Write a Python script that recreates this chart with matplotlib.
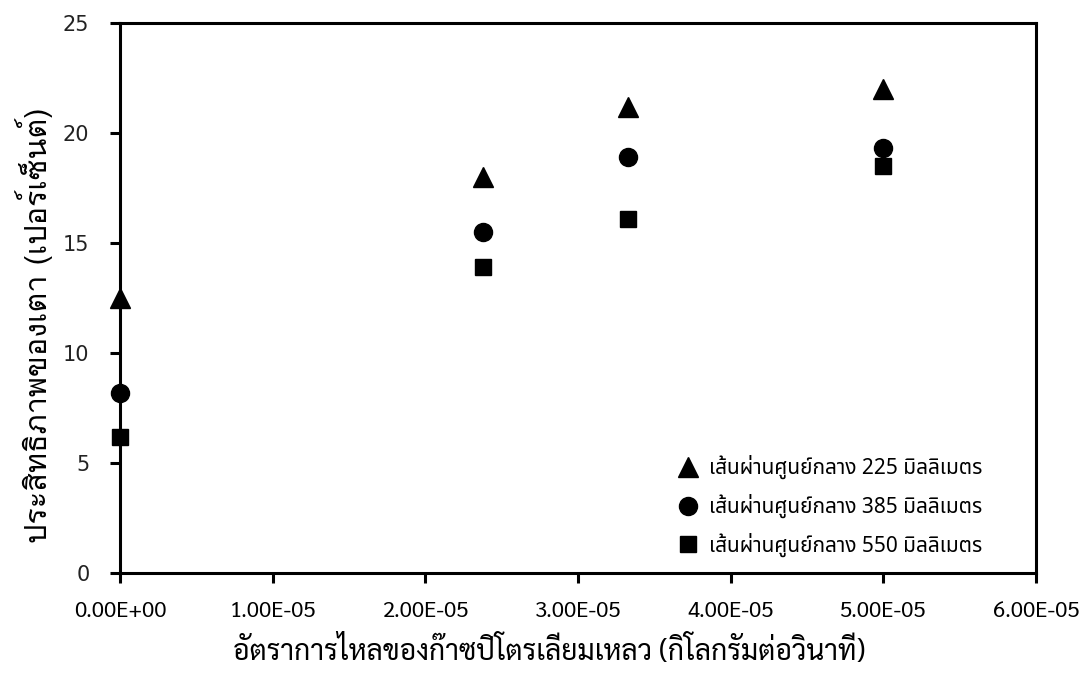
import matplotlib
matplotlib.use("Agg")
import matplotlib.pyplot as plt
from matplotlib.ticker import FuncFormatter

# อัตราการไหลของก๊าซ (kg/s) และประสิทธิภาพของเตา (%)
flow = [0.0, 2.38e-5, 3.33e-5, 5.0e-5]
eff_225 = [12.5, 18.0, 21.2, 22.0]
eff_385 = [8.2, 15.5, 18.9, 19.3]
eff_550 = [6.2, 13.9, 16.1, 18.5]
labels = ["เส้นผ่านศูนย์กลาง 225 มิลลิเมตร",
          "เส้นผ่านศูนย์กลาง 385 มิลลิเมตร",
          "เส้นผ่านศูนย์กลาง 550 มิลลิเมตร"]
x_ticks = [0, 1e-5, 2e-5, 3e-5, 4e-5, 5e-5, 6e-5]
y_ticks = [0, 5, 10, 15, 20, 25]

fig = plt.figure(figsize=(10.86, 6.84), dpi=100)
ax = fig.add_axes([0.1105, 0.1623, 0.8435, 0.8041])

ax.plot(flow, eff_225, linestyle="none", marker="^", markersize=15, color="black", label=labels[0], clip_on=False, zorder=3)
ax.plot(flow, eff_385, linestyle="none", marker="o", markersize=13, color="black", label=labels[1], clip_on=False, zorder=3)
ax.plot(flow, eff_550, linestyle="none", marker="s", markersize=12, color="black", label=labels[2], clip_on=False, zorder=3)

ax.set_xlim(0, 6e-5)
ax.set_ylim(0, 25)
ax.set_xticks(x_ticks)
ax.set_yticks(y_ticks)
ax.xaxis.set_major_formatter(FuncFormatter(lambda v, p: "%.2E" % v))

for sp in ax.spines.values():
    sp.set_linewidth(2.2)
ax.tick_params(direction="out", length=7, width=2.2)
ax.tick_params(axis="x", pad=13)
ax.tick_params(axis="y", labelsize=15, pad=15)
for t in ax.get_xticklabels():
    t.set_family(["Sarabun", "DejaVu Sans"])
    t.set_fontsize(16)
for t in ax.get_yticklabels():
    t.set_color("#222222")

ax.set_xlabel("อัตราการไหลของก๊าซปิโตรเลียมเหลว (กิโลกรัมต่อวินาที)", family=["Sarabun", "DejaVu Sans"], fontsize=20.3)
ax.xaxis.set_label_coords(0.468, -0.114)
ax.set_ylabel("ประสิทธิภาพของเตา (เปอร์เซ็นต์)", family=["Loma", "DejaVu Sans"], fontsize=22)
ax.yaxis.set_label_coords(-0.073, 0.451)

ax.legend(loc="lower right", bbox_to_anchor=(0.962, -0.005), frameon=False,
          handlelength=0.6, handletextpad=0.7, labelspacing=0.7,
          prop={"family": ["Noto Sans Thai", "DejaVu Sans"], "size": 15})

fig.savefig("out.png")
